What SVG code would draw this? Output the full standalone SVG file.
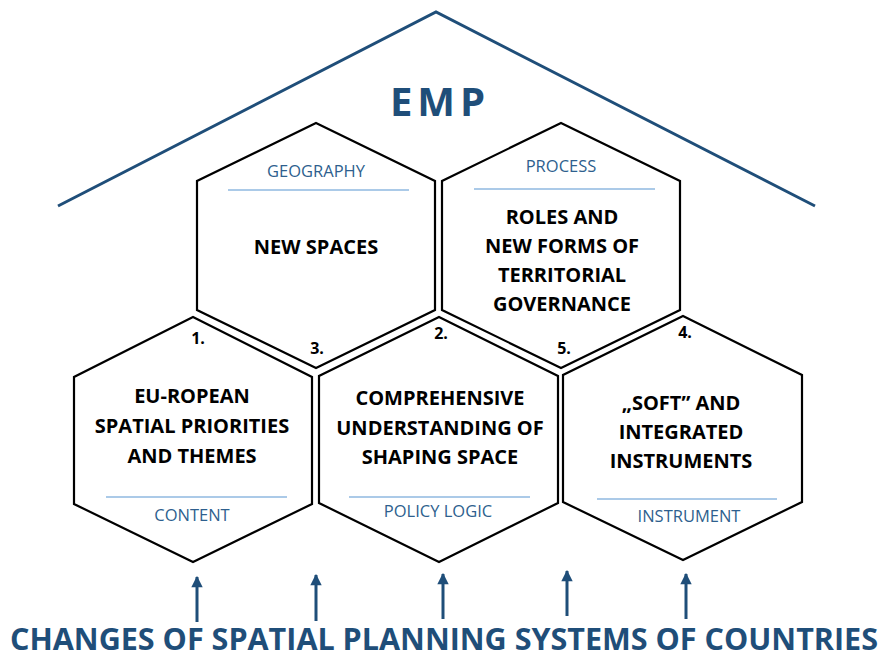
<svg xmlns="http://www.w3.org/2000/svg" width="885" height="658" viewBox="0 0 885 658">
<defs>
<style>
.hex{fill:#fff;stroke:#000;stroke-width:2.2;stroke-linejoin:miter}
.main{font-family:"Open Sans","Liberation Sans",sans-serif;font-weight:bold;font-size:20px;fill:#000;text-anchor:middle}
.sub{font-family:"Open Sans","Liberation Sans",sans-serif;font-size:16.5px;fill:#2E5F8E;text-anchor:middle}
.num{font-family:"Open Sans","Liberation Sans",sans-serif;font-weight:bold;font-size:16px;fill:#000;text-anchor:middle}
.rule{stroke:#8FB9E0;stroke-width:1.5}
.arrow{stroke:#1F4E79;stroke-width:3;fill:none}
</style>
<marker id="ah" viewBox="0 0 10 10" refX="9" refY="5" markerWidth="4" markerHeight="3.8" orient="auto" markerUnits="strokeWidth">
<path d="M0,0 L10,5 L0,10 Z" fill="#1F4E79"/>
</marker>
</defs>
<rect width="885" height="658" fill="#fff"/>
<g id="roof">
<polyline points="58,206 436,12 815,206" fill="none" stroke="#1F4E79" stroke-width="3"/>
<text x="440" y="116" font-family="Open Sans, Liberation Sans, sans-serif" font-weight="bold" font-size="40" fill="#1F4E79" text-anchor="middle" letter-spacing="5">EMP</text>
</g>
<g id="hex-geography">
<polygon class="hex" points="316,123 435,181 435,310 316,368 197,310 197,181"/>
<text class="sub" x="316" y="177">GEOGRAPHY</text>
<line class="rule" x1="228" y1="190" x2="409" y2="190"/>
<text class="main" x="316" y="254">NEW SPACES</text>
</g>
<g id="hex-process">
<polygon class="hex" points="561,123 680,181 680,310 561,368 442,310 442,181"/>
<text class="sub" x="561" y="172">PROCESS</text>
<line class="rule" x1="474" y1="189" x2="655" y2="189"/>
<text class="main" x="562" y="224">ROLES AND</text>
<text class="main" x="562" y="253">NEW FORMS OF</text>
<text class="main" x="562" y="282">TERRITORIAL</text>
<text class="main" x="562" y="311">GOVERNANCE</text>
</g>
<g id="hex-content">
<polygon class="hex" points="193,317 312,377 312,504 193,562 74,504 74,377"/>
<text class="main" x="192" y="403">EU-ROPEAN</text>
<text class="main" x="192" y="433">SPATIAL PRIORITIES</text>
<text class="main" x="192" y="463">AND THEMES</text>
<line class="rule" x1="106" y1="497" x2="287" y2="497"/>
<text class="sub" x="192" y="521">CONTENT</text>
</g>
<g id="hex-policy">
<polygon class="hex" points="439,317 558,376 558,503 439,562 319,503 319,376"/>
<text class="main" x="440" y="405">COMPREHENSIVE</text>
<text class="main" x="440" y="435">UNDERSTANDING OF</text>
<text class="main" x="440" y="464">SHAPING SPACE</text>
<line class="rule" x1="349" y1="497" x2="530" y2="497"/>
<text class="sub" x="438" y="517">POLICY LOGIC</text>
</g>
<g id="hex-instrument">
<polygon class="hex" points="683,316 802,375 802,502 683,560 563,502 563,375"/>
<text class="main" x="681" y="410">„SOFT” AND</text>
<text class="main" x="681" y="439">INTEGRATED</text>
<text class="main" x="681" y="468">INSTRUMENTS</text>
<line class="rule" x1="597" y1="499" x2="777" y2="499"/>
<text class="sub" x="689" y="522">INSTRUMENT</text>
</g>
<g id="numbers">
<text class="num" x="198" y="344">1.</text>
<text class="num" x="441" y="339">2.</text>
<text class="num" x="317" y="354">3.</text>
<text class="num" x="685" y="338">4.</text>
<text class="num" x="564" y="354">5.</text>
</g>
<g id="connectors">
<line class="arrow" x1="197" y1="622" x2="197" y2="577" marker-end="url(#ah)"/>
<line class="arrow" x1="316" y1="621" x2="316" y2="575" marker-end="url(#ah)"/>
<line class="arrow" x1="443" y1="619" x2="443" y2="574" marker-end="url(#ah)"/>
<line class="arrow" x1="567" y1="616" x2="567" y2="571" marker-end="url(#ah)"/>
<line class="arrow" x1="686" y1="619" x2="686" y2="574" marker-end="url(#ah)"/>
</g>
<g id="footer">
<text x="10" y="650" font-family="Open Sans, Liberation Sans, sans-serif" font-weight="bold" font-size="30" fill="#1F4E79" textLength="868" lengthAdjust="spacingAndGlyphs">CHANGES OF SPATIAL PLANNING SYSTEMS OF COUNTRIES</text>
</g>
</svg>
